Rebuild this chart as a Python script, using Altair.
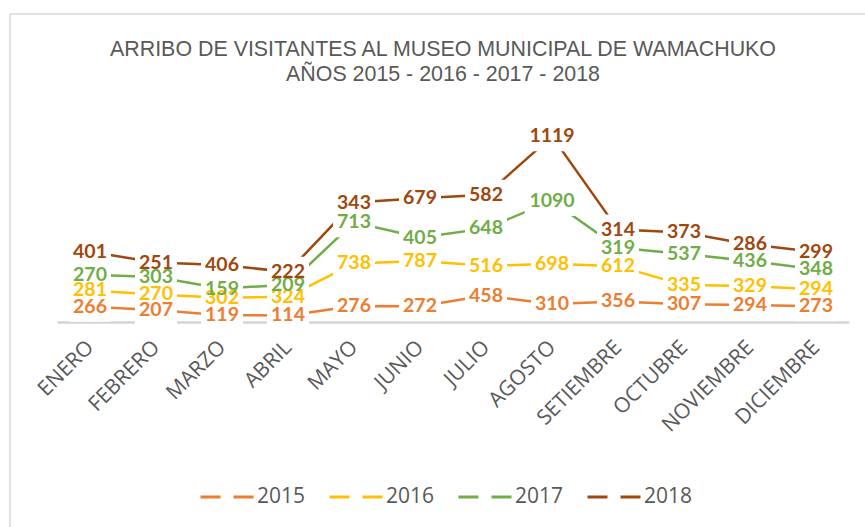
import altair as alt
import pandas as pd

months = ["ENERO", "FEBRERO", "MARZO", "ABRIL", "MAYO", "JUNIO", "JULIO",
          "AGOSTO", "SETIEMBRE", "OCTUBRE", "NOVIEMBRE", "DICIEMBRE"]
years = ["2015", "2016", "2017", "2018"]
v2015 = [266, 207, 119, 114, 276, 272, 458, 310, 356, 307, 294, 273]
v2016 = [281, 270, 302, 324, 738, 787, 516, 698, 612, 335, 329, 294]
v2017 = [270, 303, 159, 209, 713, 405, 648, 1090, 319, 537, 436, 348]
v2018 = [401, 251, 406, 222, 343, 679, 582, 1119, 314, 373, 286, 299]
colors = ["#ED7D31", "#FFC000", "#70AD47", "#9E480E"]
title1 = "ARRIBO DE VISITANTES AL MUSEO MUNICIPAL DE WAMACHUKO"
title2 = "AÑOS 2015 - 2016 - 2017 - 2018"

rows = []
cum = [0] * len(months)
for yr, vals in zip(years, [v2015, v2016, v2017, v2018]):
    for i, (m, v) in enumerate(zip(months, vals)):
        cum[i] += v
        rows.append({"mes": m, "anio": yr, "valor": v, "acum": cum[i],
                     "ndig": "d" + str(len(str(v)))})
df = pd.DataFrame(rows)

x = alt.X("mes:N", sort=months, scale=alt.Scale(type="point", padding=0.5),
          axis=alt.Axis(title=None, labelAngle=-45, labelAlign="right", labelBaseline="middle",
                        labelFont="Open Sans", labelFontSize=21, labelColor="#595959",
                        labelPadding=22, ticks=False, domain=True, domainColor="#D4D4D4",
                        domainWidth=2.5, grid=False, labelOverlap=False, zindex=0))
y = alt.Y("acum:Q", scale=alt.Scale(domain=[0, 3466]), axis=None)
color = alt.Color("anio:N", scale=alt.Scale(domain=years, range=colors),
                  legend=alt.Legend(title=None, orient="none", direction="horizontal",
                                    legendX=142, legendY=347, symbolType="stroke",
                                    symbolSize=2809, symbolStrokeWidth=3, symbolDash=[20, 13],
                                    labelFont="Open Sans", labelFontSize=21, labelColor="#595959",
                                    labelOffset=2, columnPadding=17))

# label background boxes (3-digit and 4-digit widths)
box3 = "M-1.4,-1L1.4,-1L1.4,1L-1.4,1Z"
box4 = "M-1.82,-1L1.82,-1L1.82,1L-1.82,1Z"

base = alt.Chart(df)
lines = base.mark_line(strokeWidth=2.5).encode(x=x, y=y, color=color, detail="anio:N")
boxes = base.mark_point(filled=True, fill="white", opacity=1, fillOpacity=1,
                        strokeWidth=0, size=900).encode(
    x=x, y=y,
    shape=alt.Shape("ndig:N", scale=alt.Scale(domain=["d3", "d4"], range=[box3, box4]), legend=None))
labels = base.mark_text(font="Lato", fontWeight="bold", fontSize=19.5).encode(
    x=x, y=y, text="valor:Q", color=alt.Color("anio:N", scale=alt.Scale(domain=years, range=colors), legend=None))

one = alt.Data(values=[{"k": 1}])
t1 = alt.Chart(one).mark_text(text=title1, font="Liberation Sans", fontSize=21.4, color="#595959",
                              align="center", baseline="alphabetic").encode(
    x=alt.value(386), y=alt.value(-66))
t2 = alt.Chart(one).mark_text(text=title2, font="Liberation Sans", fontSize=21.4, color="#595959",
                              align="center", baseline="alphabetic").encode(
    x=alt.value(386), y=alt.value(-41))
border_l = alt.Chart(one).mark_rule(color="#D9D9D9", strokeWidth=1.5).encode(
    x=alt.value(-47), y=alt.value(-108), y2=alt.value(405))
border_t = alt.Chart(one).mark_rule(color="#D9D9D9", strokeWidth=1.5).encode(
    x=alt.value(-47), x2=alt.value(808), y=alt.value(-108))

chart = alt.layer(border_l, border_t, lines, boxes, labels, t1, t2).properties(
    width=792, height=200,
    autosize=alt.AutoSizeParams(type="none"),
    padding={"left": 57, "top": 122, "right": 16, "bottom": 205},
).configure(background="white", view=alt.ViewConfig(stroke="transparent", strokeWidth=0))

chart.save("out.html", embed_options={"renderer": "svg", "actions": False})
